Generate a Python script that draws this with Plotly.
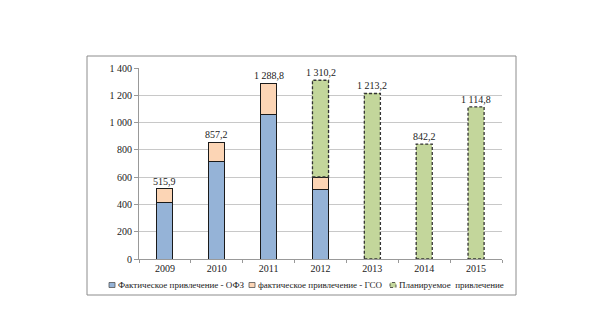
import plotly.graph_objects as go

years = ["2009", "2010", "2011", "2012", "2013", "2014", "2015"]
ofz = [416, 713, 1056, 506, 0, 0, 0]
gso = [99.9, 144.2, 232.8, 95, 0, 0, 0]
planned = [0, 0, 0, 709.2, 1213.2, 842.2, 1114.8]
totals = [515.9, 857.2, 1288.8, 1310.2, 1213.2, 842.2, 1114.8]
total_labels = ["515,9", "857,2", "1 288,8", "1 310,2", "1 213,2", "842,2", "1 114,8"]
ytick_vals = [0, 200, 400, 600, 800, 1000, 1200, 1400]
ytick_text = ["0", "200", "400", "600", "800", "1 000", "1 200", "1 400"]
series_names = ["Фактическое привлечение - ОФЗ", "фактическое привлечение - ГСО", "Планируемое  привлечение"]
series_colors = ["#95B3D7", "#FCD5B5", "#C3D69B"]

FONT = "Liberation Serif, Times New Roman, serif"
BW = 0.31
idx = list(range(len(years)))

# plot area geometry (pixels) for paper-coordinate decorations
W, H = 608, 324
L, R, T, B = 139, 106, 68, 65
PW, PH = W - L - R, H - T - B


def px(x):
    return (x - L) / PW


def py(y):
    return (H - B - y) / PH


fig = go.Figure()
for vals, name, col in zip([ofz, gso, planned], series_names, series_colors):
    is_plan = name == series_names[2]
    fig.add_trace(go.Bar(
        x=idx, y=vals, name=name, width=BW, showlegend=False,
        marker=dict(color=col, line=dict(color=col if is_plan else "#1a1a1a",
                                         width=0 if is_plan else 1))))

shapes = []
# dashed outlines for planned bars, computed from data
for i, (o, g, p) in enumerate(zip(ofz, gso, planned)):
    if p > 0:
        base = o + g
        shapes.append(dict(type="rect", xref="x", yref="y",
                           x0=i - BW / 2, x1=i + BW / 2, y0=base, y1=base + p,
                           line=dict(color="#333333", width=1.3, dash="3px,2px"),
                           fillcolor="rgba(0,0,0,0)", layer="above"))
# outer border frame
shapes.append(dict(type="rect", xref="paper", yref="paper",
                   x0=px(87), x1=px(516), y0=py(295), y1=py(56),
                   line=dict(color="#8c8c8c", width=1), fillcolor="rgba(0,0,0,0)"))

annotations = []
for i, (t, lab) in enumerate(zip(totals, total_labels)):
    annotations.append(dict(x=i, y=t, xref="x", yref="y", text=lab, showarrow=False,
                            yanchor="bottom", yshift=0,
                            font=dict(family=FONT, size=10, color="#222")))

# custom single-row legend
legend_x = [109, 249, 390]
legend_y = 285
for lx, name, col in zip(legend_x, series_names, series_colors):
    is_plan = name == series_names[2]
    shapes.append(dict(type="rect", xref="paper", yref="paper",
                       x0=px(lx), x1=px(lx + 6), y0=py(legend_y + 2.5), y1=py(legend_y - 2.5),
                       fillcolor=col,
                       line=dict(color="#333" if is_plan else "#555", width=0.8,
                                 dash="dot" if is_plan else "solid")))
    annotations.append(dict(x=px(lx + 7), y=py(legend_y), xref="paper", yref="paper",
                            text=name, showarrow=False, xanchor="left", yanchor="middle",
                            font=dict(family=FONT, size=9, color="#222")))

fig.update_layout(
    barmode="stack",
    width=W, height=H,
    margin=dict(l=L, r=R, t=T, b=B, autoexpand=False),
    paper_bgcolor="white", plot_bgcolor="white",
    font=dict(family=FONT, size=10, color="#222"),
    shapes=shapes, annotations=annotations,
    showlegend=False,
    xaxis=dict(range=[-0.5, 6.5], tickvals=idx, ticktext=years, showgrid=False,
               showline=True, linecolor="#999", ticks="", tickfont=dict(family=FONT, size=10),
               minor=dict(tickvals=[i - 0.5 for i in range(len(years) + 1)],
                          ticks="outside", ticklen=3, tickcolor="#999", showgrid=False)),
    yaxis=dict(range=[0, 1400], tickvals=ytick_vals, ticktext=ytick_text,
               showgrid=True, gridcolor="#c8c8c8", gridwidth=1,
               showline=True, linecolor="#999", ticks="outside", ticklen=4, tickcolor="#999",
               zeroline=False, tickfont=dict(family=FONT, size=10)),
)

fig.write_html("out.html")
